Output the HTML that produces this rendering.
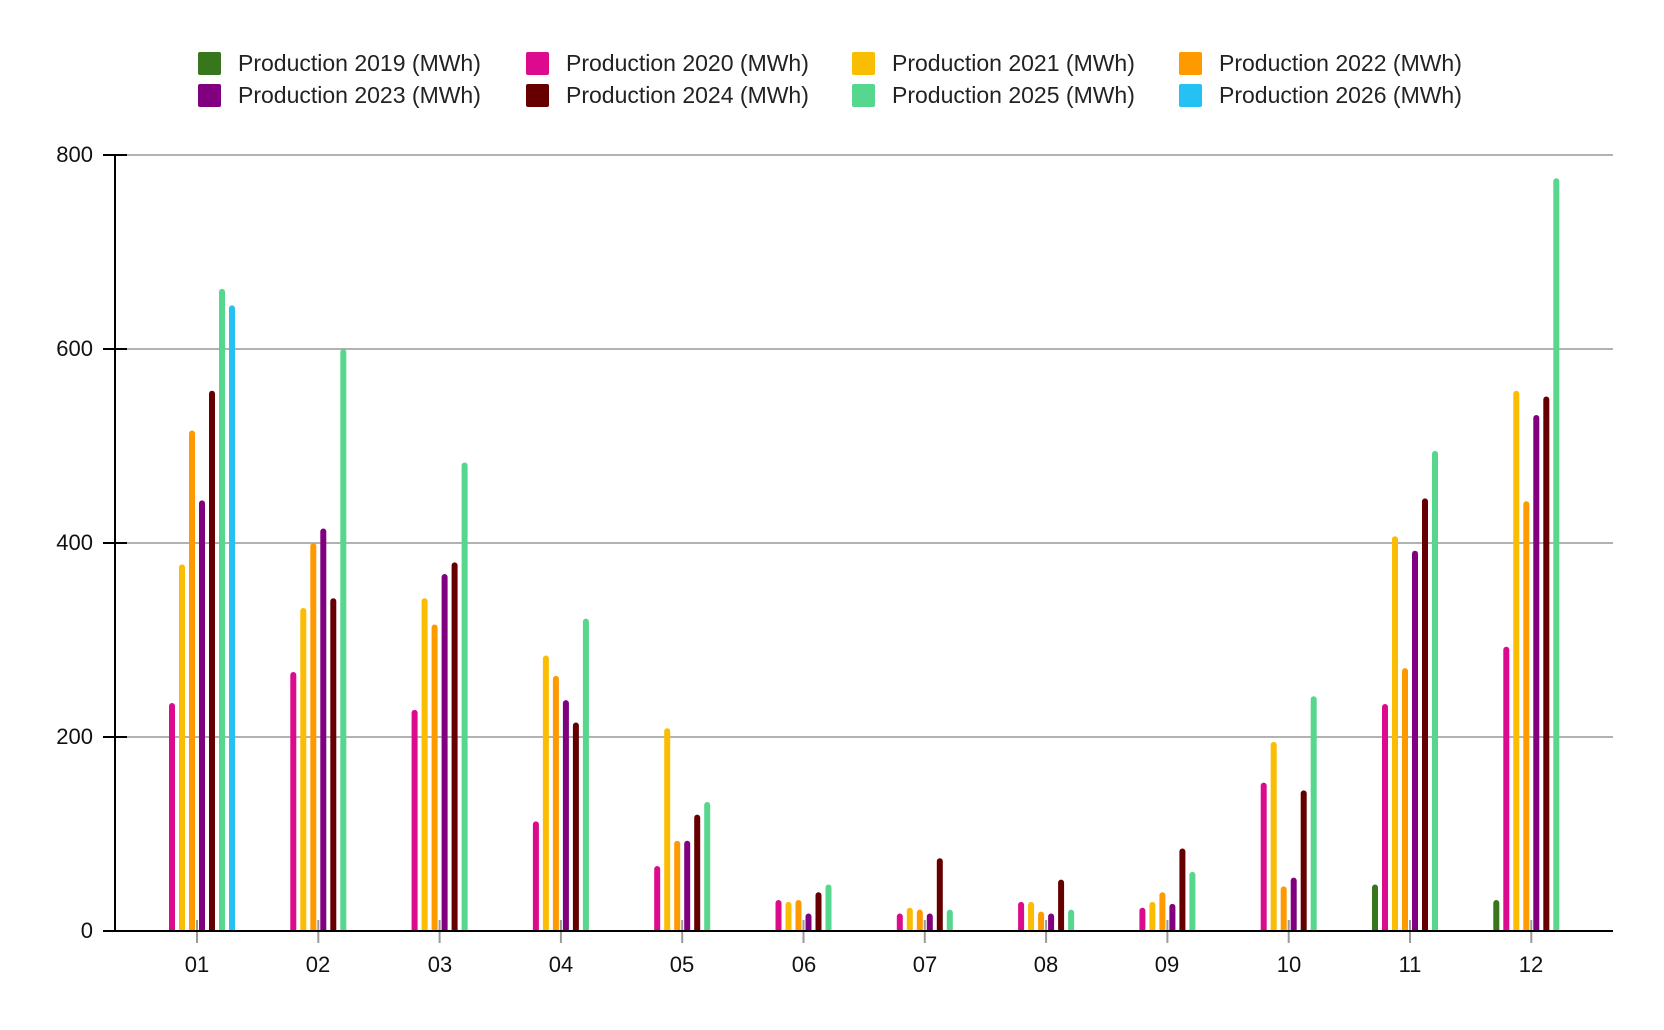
<!DOCTYPE html>
<html><head><meta charset="utf-8"><style>
body{margin:0;background:#fff;}
svg{display:block;font-family:"Liberation Sans",sans-serif;}
</style></head><body>
<svg id="s" width="1664" height="1030" viewBox="0 0 1664 1030">
<defs><clipPath id="c"><rect x="0" y="0" width="1664" height="930"/></clipPath></defs>
<g stroke="#999" stroke-width="1.5">
<line x1="127" x2="1613" y1="737" y2="737"/>
<line x1="127" x2="1613" y1="543" y2="543"/>
<line x1="127" x2="1613" y1="349" y2="349"/>
<line x1="127" x2="1613" y1="155" y2="155"/>
</g>
<g id="xt" stroke="#999" stroke-width="2"></g>
<g id="bars" clip-path="url(#c)"></g>
<g stroke="#000" stroke-width="2">
<line x1="115" x2="115" y1="154" y2="932"/>
<line x1="103" x2="1613" y1="931" y2="931"/>
<line x1="103" x2="127" y1="737" y2="737"/>
<line x1="103" x2="127" y1="543" y2="543"/>
<line x1="103" x2="127" y1="349" y2="349"/>
<line x1="103" x2="127" y1="155" y2="155"/>
</g>
<g font-size="22" text-anchor="end" fill="#111">
<text x="93" y="938">0</text><text x="93" y="744">200</text><text x="93" y="550">400</text><text x="93" y="356">600</text><text x="93" y="162">800</text>
</g>
<g font-size="22" text-anchor="middle" fill="#111">
<text x="197" y="972">01</text><text x="318" y="972">02</text><text x="440" y="972">03</text><text x="561" y="972">04</text><text x="682" y="972">05</text><text x="804" y="972">06</text><text x="925" y="972">07</text><text x="1046" y="972">08</text><text x="1167" y="972">09</text><text x="1289" y="972">10</text><text x="1410" y="972">11</text><text x="1531" y="972">12</text>
</g>
<g font-size="23" fill="#222">
<rect x="198" y="52" width="23" height="23" rx="2" fill="#38761d"/><text x="238" y="71">Production 2019 (MWh)</text>
<rect x="526" y="52" width="23" height="23" rx="2" fill="#dc0a8c"/><text x="566" y="71">Production 2020 (MWh)</text>
<rect x="852" y="52" width="23" height="23" rx="2" fill="#fbbc04"/><text x="892" y="71">Production 2021 (MWh)</text>
<rect x="1179" y="52" width="23" height="23" rx="2" fill="#ff9900"/><text x="1219" y="71">Production 2022 (MWh)</text>
<rect x="198" y="84" width="23" height="23" rx="2" fill="#800080"/><text x="238" y="103">Production 2023 (MWh)</text>
<rect x="526" y="84" width="23" height="23" rx="2" fill="#660000"/><text x="566" y="103">Production 2024 (MWh)</text>
<rect x="852" y="84" width="23" height="23" rx="2" fill="#57d68d"/><text x="892" y="103">Production 2025 (MWh)</text>
<rect x="1179" y="84" width="23" height="23" rx="2" fill="#24c1f2"/><text x="1219" y="103">Production 2026 (MWh)</text>
</g>
</svg>
<script>
var cols=["#38761d","#dc0a8c","#fbbc04","#ff9900","#800080","#660000","#57d68d","#24c1f2"];
var d=[[0,235,378,516,444,557,662,645],[0,267,333,400,415,343,600,0],[0,228,343,316,368,380,483,0],[0,113,284,263,238,215,322,0],[0,67,209,93,93,120,133,0],[0,32,30,32,18,40,48,0],[0,18,24,22,18,75,22,0],[0,30,30,20,18,53,22,0],[0,24,30,40,28,85,61,0],[0,153,195,46,55,145,242,0],[48,234,407,271,392,446,495,0],[32,293,557,443,532,551,776,0]];
var ns="http://www.w3.org/2000/svg",g=document.getElementById("bars"),xt=document.getElementById("xt");
for(var i=0;i<12;i++){var t=197+i*121.3;
var l=document.createElementNS(ns,"line");l.setAttribute("x1",t);l.setAttribute("x2",t);l.setAttribute("y1",920);l.setAttribute("y2",943);xt.appendChild(l);
for(var k=0;k<8;k++){var v=d[i][k];if(!v)continue;var h=v*0.97;var r=document.createElementNS(ns,"rect");
r.setAttribute("x",t+(k-3.5)*10-3);r.setAttribute("y",931-h);r.setAttribute("width",6);r.setAttribute("height",h+6);r.setAttribute("rx",3);r.setAttribute("fill",cols[k]);g.appendChild(r);}}
</script>
</body></html>
